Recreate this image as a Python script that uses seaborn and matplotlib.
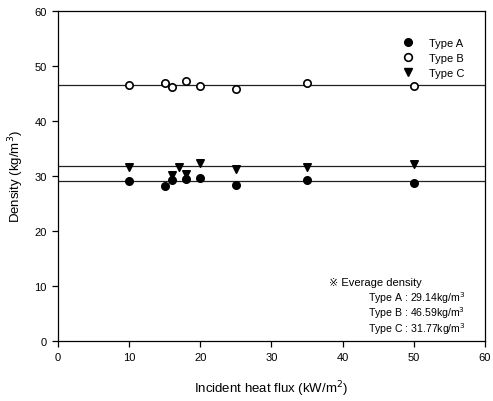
import matplotlib
matplotlib.use("Agg")
import matplotlib.pyplot as plt
import seaborn as sns
import pandas as pd
from matplotlib.lines import Line2D

# Measured densities per sample type at each incident heat flux
flux_a = [10, 15, 16, 18, 20, 25, 35, 50]
density_a = [29.1, 28.1, 29.3, 29.5, 29.6, 28.4, 29.2, 28.7]

flux_b = [10, 15, 16, 18, 20, 25, 35, 50]
density_b = [46.5, 46.85, 46.25, 47.2, 46.4, 45.9, 46.95, 46.35]

flux_c = [10, 16, 17, 18, 20, 25, 35, 50]
density_c = [31.6, 30.2, 31.7, 30.3, 32.3, 31.3, 31.6, 32.1]

type_names = ["Type A", "Type B", "Type C"]
average_density = [29.14, 46.59, 31.77]

x_ticks = [0, 10, 20, 30, 40, 50, 60]
y_ticks = [0, 10, 20, 30, 40, 50, 60]

sns.set_theme(style="ticks")
plt.rcParams["font.family"] = ["Liberation Sans", "DejaVu Sans"]
plt.rcParams.update({"text.color": "black", "axes.labelcolor": "black",
                     "xtick.color": "black", "ytick.color": "black"})

df = pd.concat([
    pd.DataFrame({"flux": flux_a, "density": density_a, "type": type_names[0]}),
    pd.DataFrame({"flux": flux_b, "density": density_b, "type": type_names[1]}),
    pd.DataFrame({"flux": flux_c, "density": density_c, "type": type_names[2]}),
])

fig = plt.figure(figsize=(4.93, 4.02), dpi=100)
ax = fig.add_axes([0.1176, 0.1493, 0.866, 0.8208])

# average density reference lines
for val in average_density:
    ax.axhline(val, color="#222222", lw=0.9, zorder=1)

styles = {
    "Type A": dict(marker="o", facecolor="black"),
    "Type B": dict(marker="o", facecolor="white"),
    "Type C": dict(marker="v", facecolor="black"),
}
for name in type_names:
    sub = df[df["type"] == name]
    st = styles[name]
    sns.scatterplot(data=sub, x="flux", y="density", ax=ax, marker=st["marker"],
                    s=28, color=st["facecolor"], edgecolor="black", linewidth=1.2,
                    zorder=3, legend=False)

ax.set_xlim(0, 60)
ax.set_ylim(0, 60)
ax.set_xticks(x_ticks)
ax.set_yticks(y_ticks)
ax.tick_params(axis="both", labelsize=8, length=4, width=0.9, color="black",
               labelcolor="black", direction="out", pad=4)
for sp in ax.spines.values():
    sp.set_visible(True)
    sp.set_color("black")
    sp.set_linewidth(0.9)

ax.set_xlabel("Incident heat flux (kW/m$^2$)", fontsize=9.5, labelpad=12)
ax.set_ylabel("Density (kg/m$^3$)", fontsize=9.5, labelpad=6)

handles = [
    Line2D([], [], ls="none", marker="o", mfc="black", mec="black", ms=5.5),
    Line2D([], [], ls="none", marker="o", mfc="white", mec="black", mew=1.2, ms=5.5),
    Line2D([], [], ls="none", marker="v", mfc="black", mec="black", ms=5.5),
]
ax.legend(handles, type_names, loc="upper right", frameon=False, fontsize=8,
          handletextpad=0.9, labelspacing=0.45, bbox_to_anchor=(0.975, 0.95))

# average density note
ax.text(0.635, 0.18, "\u203b Everage density", transform=ax.transAxes,
        fontsize=8, ha="left", va="center")
note_lines = [f"{n} : {v:.2f}kg/m$^3$" for n, v in zip(type_names, average_density)]
for i, line in enumerate(note_lines):
    ax.text(0.725, 0.134 - i * 0.047, line, transform=ax.transAxes,
            fontsize=7.6, ha="left", va="center")

fig.savefig("out.png", dpi=100)
